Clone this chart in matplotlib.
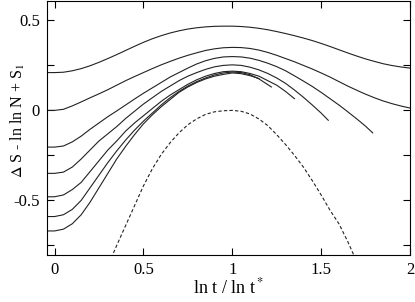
import matplotlib
matplotlib.use("Agg")
import matplotlib.pyplot as plt

plt.rcParams['font.family'] = ['Liberation Serif', 'DejaVu Serif']
plt.rcParams['mathtext.fontset'] = 'stix'

# curvas: x = ln t / ln t*, y = dS - ln ln N + S1
xa = [-0.05, 0.0, 0.05, 0.1, 0.15, 0.2, 0.25, 0.3, 0.35, 0.4, 0.45, 0.5, 0.55, 0.6, 0.65, 0.7, 0.75, 0.8, 0.85, 0.9, 0.95,
      1.0, 1.05, 1.1, 1.15, 1.2, 1.25, 1.3, 1.35, 1.4, 1.45, 1.5, 1.55, 1.6, 1.65, 1.7, 1.75, 1.8, 1.85, 1.9, 1.95, 2.0]
ya = [0.21, 0.21, 0.212, 0.22, 0.232, 0.248, 0.267, 0.288, 0.31, 0.333, 0.356, 0.378, 0.398, 0.415, 0.43, 0.442, 0.452, 0.459, 0.464, 0.467, 0.468,
      0.468, 0.466, 0.462, 0.456, 0.448, 0.438, 0.427, 0.415, 0.402, 0.388, 0.372, 0.355, 0.337, 0.319, 0.302, 0.286, 0.272, 0.259, 0.249, 0.241, 0.235]

xb = [-0.05, 0.0, 0.05, 0.1, 0.15, 0.2, 0.25, 0.3, 0.35, 0.4, 0.45, 0.5, 0.55, 0.6, 0.65, 0.7, 0.75, 0.8, 0.85, 0.9, 0.95,
      1.0, 1.05, 1.1, 1.15, 1.2, 1.25, 1.3, 1.35, 1.4, 1.45, 1.5, 1.55, 1.6, 1.65, 1.7, 1.75, 1.8, 1.85, 1.9, 1.95, 2.0]
yb = [0.0, 0.0, 0.006, 0.025, 0.047, 0.07, 0.092, 0.115, 0.14, 0.165, 0.188, 0.21, 0.232, 0.253, 0.272, 0.29, 0.306, 0.32, 0.333, 0.342, 0.348,
      0.35, 0.349, 0.344, 0.335, 0.322, 0.306, 0.288, 0.27, 0.25, 0.23, 0.208, 0.185, 0.16, 0.135, 0.112, 0.09, 0.07, 0.052, 0.037, 0.024, 0.013]

xc = [-0.05, 0.0, 0.05, 0.1, 0.15, 0.2, 0.25, 0.3, 0.35, 0.4, 0.45, 0.5, 0.55, 0.6, 0.65, 0.7, 0.75, 0.8, 0.85, 0.9, 0.95,
      1.0, 1.05, 1.1, 1.15, 1.2, 1.25, 1.3, 1.35, 1.4, 1.45, 1.5, 1.55, 1.6, 1.65, 1.7, 1.75, 1.79]
yc = [-0.204, -0.204, -0.198, -0.175, -0.143, -0.105, -0.07, -0.035, -0.003, 0.03, 0.063, 0.095, 0.125, 0.155, 0.185, 0.21, 0.235, 0.258, 0.276, 0.289, 0.297,
      0.299, 0.297, 0.29, 0.278, 0.262, 0.243, 0.22, 0.192, 0.163, 0.133, 0.1, 0.065, 0.03, -0.008, -0.047, -0.088, -0.125]

xd = [-0.05, 0.0, 0.05, 0.1, 0.15, 0.2, 0.25, 0.3, 0.35, 0.4, 0.45, 0.5, 0.55, 0.6, 0.65, 0.7, 0.75, 0.8, 0.85, 0.9, 0.95,
      1.0, 1.05, 1.1, 1.15, 1.2, 1.25, 1.3, 1.35, 1.4, 1.45, 1.5, 1.54]
yd = [-0.35, -0.35, -0.343, -0.315, -0.27, -0.22, -0.17, -0.13, -0.09, -0.045, -0.005, 0.035, 0.07, 0.105, 0.135, 0.165, 0.19, 0.21, 0.228, 0.242, 0.25,
      0.253, 0.25, 0.24, 0.225, 0.205, 0.18, 0.15, 0.113, 0.073, 0.03, -0.015, -0.055]

xe = [-0.05, 0.0, 0.05, 0.1, 0.15, 0.2, 0.25, 0.3, 0.35, 0.4, 0.45, 0.5, 0.55, 0.6, 0.65, 0.7, 0.75, 0.8, 0.85, 0.9, 0.95,
      1.0, 1.05, 1.1, 1.15, 1.2, 1.25, 1.3, 1.35]
ye = [-0.48, -0.48, -0.47, -0.44, -0.40, -0.34, -0.28, -0.22, -0.17, -0.115, -0.07, -0.03, 0.01, 0.05, 0.085, 0.115, 0.145, 0.17, 0.19, 0.205, 0.215,
      0.218, 0.215, 0.205, 0.19, 0.165, 0.14, 0.105, 0.065]

xf = [-0.05, 0.0, 0.05, 0.1, 0.15, 0.2, 0.25, 0.3, 0.35, 0.4, 0.45, 0.5, 0.55, 0.6, 0.65, 0.7, 0.75, 0.8, 0.85, 0.9, 0.95,
      1.0, 1.05, 1.1, 1.15, 1.22]
yf = [-0.59, -0.59, -0.58, -0.55, -0.50, -0.43, -0.36, -0.29, -0.225, -0.165, -0.11, -0.06, -0.015, 0.03, 0.07, 0.105, 0.135, 0.16, 0.18, 0.197, 0.208,
      0.213, 0.21, 0.198, 0.175, 0.13]

xg = [-0.05, 0.0, 0.05, 0.1, 0.15, 0.2, 0.25, 0.3, 0.35, 0.4, 0.45, 0.5, 0.55, 0.6, 0.65, 0.7, 0.75, 0.8, 0.85, 0.9, 0.95,
      1.0, 1.05, 1.1, 1.15]
yg = [-0.67, -0.67, -0.66, -0.63, -0.58, -0.51, -0.43, -0.35, -0.27, -0.20, -0.135, -0.075, -0.025, 0.02, 0.06, 0.10, 0.13, 0.155, 0.175, 0.19, 0.2,
      0.208, 0.204, 0.193, 0.177]

# curva limite (discontinua)
xl = [0.31, 0.328, 0.35, 0.4, 0.45, 0.5, 0.55, 0.6, 0.65, 0.7, 0.75, 0.8, 0.85, 0.9, 0.95, 1.0,
      1.05, 1.1, 1.15, 1.2, 1.25, 1.3, 1.35, 1.4, 1.45, 1.5, 1.55, 1.6, 1.65, 1.7]
yl = [-0.85, -0.80, -0.75, -0.64, -0.53, -0.42, -0.325, -0.245, -0.18, -0.125, -0.08, -0.047, -0.022, -0.008, -0.002, 0.0,
      -0.005, -0.02, -0.048, -0.085, -0.135, -0.19, -0.25, -0.315, -0.39, -0.47, -0.555, -0.63, -0.73, -0.84]

xticks = [0, 0.5, 1, 1.5, 2]
xlabels = ['0', '0.5', '1', '1.5', '2']
yticks = [-0.75, -0.5, -0.25, 0, 0.25, 0.5]
ylabels = ['', '-0.5', '', '0', '', '0.5']

fig = plt.figure(figsize=(4.15, 3.02), dpi=100)
ax = fig.add_axes([0.113, 0.156, 0.875, 0.842])

for x, y in [(xa, ya), (xb, yb), (xc, yc), (xd, yd), (xe, ye), (xf, yf), (xg, yg)]:
    ax.plot(x, y, color='#222222', lw=0.8)
ax.plot(xl, yl, color='#222222', lw=0.8, dashes=(3, 2))

ax.set_xlim(-0.043, 2.0)
ax.set_ylim(-0.803, 0.61)
ax.set_xticks(xticks)
ax.set_xticklabels(xlabels)
ax.set_yticks(yticks)
ax.set_yticklabels(ylabels)
ax.tick_params(direction='in', length=5, width=0.8, top=True, right=True, labelsize=12, pad=5)
for s in ax.spines.values():
    s.set_linewidth(0.8)

ax.set_xlabel(r'ln t / ln t$^*$', fontsize=13)
ax.set_ylabel(r'$\Delta$ S - ln ln N + S$_1$', fontsize=11.5)
ax.xaxis.set_label_coords(0.5, -0.09)
ax.yaxis.set_label_coords(-0.055, 0.53)

fig.savefig('out.png', dpi=100)
